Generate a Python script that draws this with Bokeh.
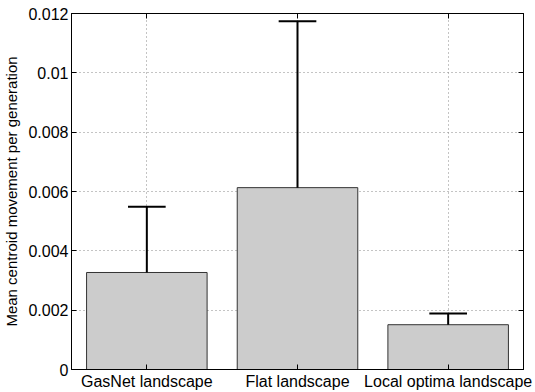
from bokeh.plotting import figure
from bokeh.models import FixedTicker, LinearAxis, Range1d, ColumnDataSource
from bokeh.embed import file_html
from bokeh.resources import INLINE

categories = ["GasNet landscape", "Flat landscape", "Local optima landscape"]
positions = [1, 2, 3]
means = [0.00327, 0.00613, 0.00151]
upper = [0.00549, 0.01174, 0.00189]
y_ticks = [0, 0.002, 0.004, 0.006, 0.008, 0.01, 0.012]
y_tick_labels = ["0", "0.002", "0.004", "0.006", "0.008", "0.01", "0.012"]

FONT = "Liberation Sans"
FS = "16px"

p = figure(width=535, height=392, output_backend="svg", toolbar_location=None,
           x_range=Range1d(0.5, 3.5), y_range=Range1d(0, 0.012),
           min_border_left=70, min_border_right=12, min_border_top=13, min_border_bottom=22)
p.outline_line_color = "black"
p.outline_line_width = 1
p.background_fill_color = "white"
p.border_fill_color = "white"

src = ColumnDataSource(dict(x=positions, top=means, up=upper,
                            cl=[v - 0.125 for v in positions], cr=[v + 0.125 for v in positions]))
p.vbar(x="x", top="top", bottom=0, width=0.8, source=src,
       fill_color="#cccccc", line_color="#333333", line_width=1)
p.segment(x0="x", y0="top", x1="x", y1="up", source=src, line_color="black", line_width=2)
p.segment(x0="cl", y0="up", x1="cr", y1="up", source=src, line_color="black", line_width=2)

for ax in [p.xaxis[0], p.yaxis[0]]:
    ax.axis_line_color = "black"
    ax.major_tick_in = 5
    ax.major_tick_out = 0
    ax.minor_tick_line_color = None
    ax.major_label_text_font = FONT
    ax.major_label_text_font_size = FS
    ax.major_label_text_color = "black"
    ax.major_label_standoff = 3

p.xaxis[0].ticker = FixedTicker(ticks=positions)
p.xaxis[0].major_label_overrides = {v: c for v, c in zip(positions, categories)}
p.yaxis[0].ticker = FixedTicker(ticks=y_ticks)
p.yaxis[0].major_label_overrides = {v: l for v, l in zip(y_ticks, y_tick_labels)}
p.yaxis[0].axis_label = "Mean centroid movement per generation"
p.yaxis[0].axis_label_text_font = FONT
p.yaxis[0].axis_label_text_font_size = "15px"
p.yaxis[0].axis_label_text_font_style = "normal"
p.yaxis[0].axis_label_text_color = "black"
p.yaxis[0].axis_label_standoff = 5

top_ax = LinearAxis(ticker=FixedTicker(ticks=positions), major_label_text_color=None,
                    major_label_overrides={v: "" for v in positions},
                    major_tick_in=5, major_tick_out=0, minor_tick_line_color=None,
                    axis_line_color="black", major_label_standoff=0)
right_ax = LinearAxis(ticker=FixedTicker(ticks=y_ticks), major_label_text_color=None,
                      major_label_overrides={v: "" for v in y_ticks},
                      major_tick_in=5, major_tick_out=0, minor_tick_line_color=None,
                      axis_line_color="black", major_label_standoff=0)
p.add_layout(top_ax, "above")
p.add_layout(right_ax, "right")

p.xgrid.ticker = FixedTicker(ticks=positions)
p.ygrid.ticker = FixedTicker(ticks=y_ticks)
for g in [p.xgrid, p.ygrid]:
    g.grid_line_color = "#888888"
    g.grid_line_dash = "1 3"
    g.grid_line_width = 1

open("out.html", "w").write(file_html(p, INLINE))
